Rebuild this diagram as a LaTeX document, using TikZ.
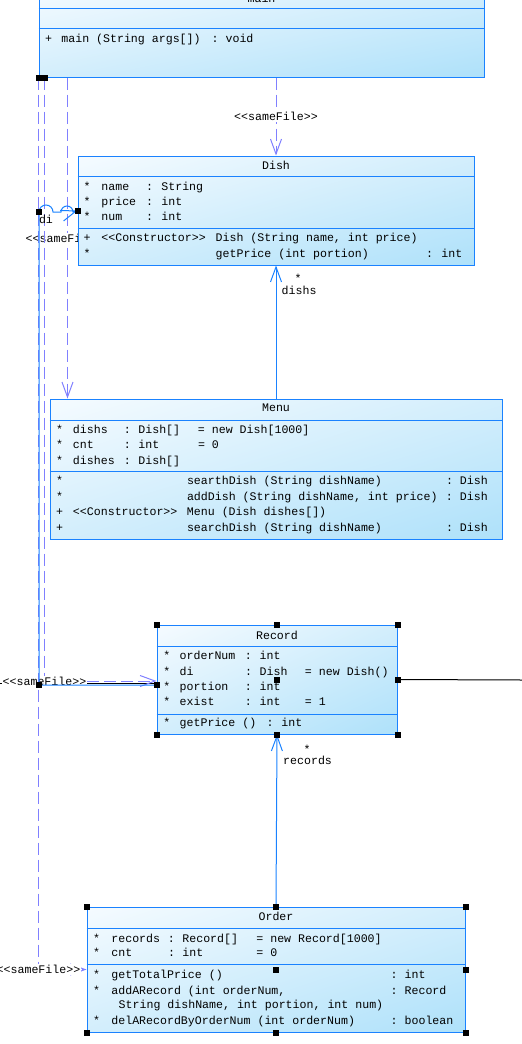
\documentclass[tikz,border=0pt]{standalone}
\usepackage{fontspec}
\setmonofont{Liberation Mono}
\usetikzlibrary{arrows.meta,calc,shadings}
\definecolor{umBlue}{HTML}{1A82FF}
\definecolor{umDep}{HTML}{8080FF}
\definecolor{umPale}{HTML}{F5FBFF}
\definecolor{umMid}{HTML}{D3EEFC}
\definecolor{umSky}{HTML}{AEE1FA}
\newcommand{\UMType}{\ttfamily\fontsize{11.6}{13}\selectfont}
\newcommand{\umcol}[2]{\makebox[#1pt][l]{#2}}
\pgfdeclarelayer{links}
\pgfsetlayers{links,main}
\tikzset{um/base/.style={x=1pt,y=-1pt,line cap=butt,line join=miter,
  every node/.style={font=\UMType,inner sep=0pt,text=black}},
  um/class/.style={rectangle,draw=umBlue,line width=1pt,shade,
    upper left=umPale,upper right=umMid,lower left=umMid,lower right=umSky},
  um/rule/.style={draw=umBlue,line width=1pt},
  um/txt/.style={yshift=-2pt},
  um/row/.style={um/txt,anchor=mid west},
  um/title/.style={um/txt,anchor=mid},
  um/dep/.style={draw=umDep,line width=1pt,dash pattern=on 12pt off 5pt,
    -{Straight Barb[length=15pt,width=11pt]}},
  um/assoc/.style={draw=umBlue,line width=1pt,-{Straight Barb[length=15pt,width=11pt]}},
  um/tag/.style={fill=white,inner sep=1pt},
  um/plain/.style={draw=black,line width=1pt}}

\begin{document}
\begin{tikzpicture}[um/base]
  \useasboundingbox (0,0) rectangle (522,1044);
  % class boxes, screenshot pixels
  \node[um/class,minimum width=445pt,minimum height=90pt] (main) at (261.5,32) {};
  \node[um/class,minimum width=396pt,minimum height=109pt] (dish) at (276,210.5) {};
  \node[um/class,minimum width=452pt,minimum height=140pt] (menu) at (276,469) {};
  \node[um/class,minimum width=240pt,minimum height=109pt] (record) at (277,679.5) {};
  \node[um/class,minimum width=378pt,minimum height=125pt] (order) at (276,969.5) {};
  \foreach \b/\y in {main/8,main/28,dish/176,dish/228,menu/420,menu/471,
      record/646,record/714,order/928,order/964}
    \draw[um/rule] (\b.west |- 0,\y) -- (\b.east |- 0,\y);

  % main
  \node[um/title] (mainName) at (main.north |- 0,-2) {main};
  \node[um/row] (mainOp) at (44.8,38) {\umcol{16.4}{+}\umcol{150.3}{main (String args[])}: void};

  % Dish
  \node[um/title] (dishName) at (dish.north |- 0,165) {Dish};
  \foreach \n/\t [count=\i] in {name/String,price/int,num/int}
    \node[um/row] (dishA\i) at (83.5,{171.7+15*\i}) {\umcol{17.7}{*}\umcol{44.8}{\n}\umcol{15.2}{:}\t};
  \node[um/row] (dishO1) at (83.5,237.3) {\umcol{17.7}{+}\umcol{114.3}{<<Constructor>>}Dish (String name, int price)};
  \node[um/row] (dishO2) at (83.5,253.3) {\umcol{17.7}{*}\umcol{114.3}{}\umcol{210.5}{getPrice (int portion)}\umcol{15.2}{:}int};

  % Menu
  \node[um/title] (menuName) at (menu.north |- 0,407.7) {Menu};
  \foreach \y/\n/\t/\v in {429/dishs/{Dish[]}/{= new Dish[1000]},444.5/cnt/int/{= 0},460/dishes/{Dish[]}/{}}
    \node[um/row] (menuA-\n) at (56,\y) {\umcol{16.8}{*}\umcol{51}{\n}\umcol{14.4}{:}\umcol{59.6}{\t}\v};
  \foreach \y/\s/\k/\n/\t [count=\i] in {
      480.7/*/{}/{searthDish (String dishName)}/{: Dish},
      496.7/*/{}/{addDish (String dishName, int price)}/{: Dish},
      511.7/+/{<<Constructor>>}/{Menu (Dish dishes[])}/{},
      527.7/+/{}/{searchDish (String dishName)}/{: Dish}}
    \node[um/row] (menuO\i) at (56,\y) {\umcol{16.8}{\s}\umcol{114}{\k}\umcol{259}{\n}\t};

  % Record
  \node[um/title] (recordName) at (record.north |- 0,635) {Record};
  \foreach \y/\n/\t/\v in {655.7/orderNum/int/{},671/di/Dish/{= new Dish()},
      686.7/portion/int/{},701/exist/int/{= 1}}
    \node[um/row] (recordA-\n) at (163.2,\y) {\umcol{16.3}{*}\umcol{65.3}{\n}\umcol{14.7}{:}\umcol{45.3}{\t}\v};
  \node[um/row] (recordO1) at (163.2,722.7) {\umcol{16.3}{*}\umcol{87}{getPrice ()}\umcol{14.7}{:}int};

  % Order
  \node[um/title] (orderName) at (order.north |- 0,916.7) {Order};
  \foreach \y/\n/\t/\v in {938.3/records/{Record[]}/{= new Record[1000]},952.7/cnt/int/{= 0}}
    \node[um/row] (orderA-\n) at (92.8,\y) {\umcol{18.4}{*}\umcol{56.6}{\n}\umcol{14.4}{:}\umcol{74}{\t}\v};
  \foreach \y/\n/\t [count=\i] in {974/{getTotalPrice ()}/{: int},
      990/{addARecord (int orderNum,}/{: Record},
      1020.7/{delARecordByOrderNum (int orderNum)}/{: boolean}}
    \node[um/row] (orderO\i) at (92.8,\y) {\umcol{18.4}{*}\umcol{279.3}{\n}\t};
  \node[um/row] (orderO2b) at (118.5,1004.3) {String dishName, int portion, int num)};

  % connectors sit under the boxes
  \begin{pgfonlayer}{links}
    \coordinate (offW) at (0,683);
    \coordinate (offE) at (522,680);
    \coordinate (diBend) at (39,212);
    \draw[um/plain] ($(record.west)+(0,3.5)$) -- (offW);
    \draw[um/plain] (record.east) -- (offE);
    \draw[um/dep] (dish.north |- main.south) -- node[um/tag] (tagDish) {<<sameFile>>} (dish.north);
    \draw[um/dep] ($(main.south west)+(29,0)$) coordinate (mainM)
      -- node[um/tag] (tagMenu) {<<sameFile>>} (mainM |- menu.north);
    \draw[um/dep] ($(main.south west)+(6,0)$) coordinate (mainR)
      |- node[um/tag] (tagRecord) {<<sameFile>>} ($(record.west)+(0,1.5)$);
    \draw[um/dep] (main.south west) |- node[um/tag] (tagOrder) {<<sameFile>>} (order.west);
    \draw[um/assoc] (menu.north) -- (dish.south);
    \draw[um/assoc] (order.north) -- (record.south);
    % line jumps over the two dashed verticals
    \draw[um/assoc] ($(record.west)+(0,5.5)$) coordinate (recDi) -| (diBend)
      arc(180:360:7) -- ++(8,0) arc(180:360:6) -- (dish.west);
  \end{pgfonlayer}

  % role names and multiplicities
  \node[um/txt] (dishsMult) at (298,276) {*};
  \node[um/txt,anchor=mid west] (dishsRole) at (281.5,290) {dishs};
  \node[um/txt] (recMult) at (307,747) {*};
  \node[um/txt,anchor=mid west] (recRole) at (283,760) {records};
  \node[um/txt] (diRole) at (46,217) {di};

  % selection grips
  \foreach \a in {north west,north,north east,east,center,south west,south,south east}{
    \fill (record.\a) +(-3,-3) rectangle +(3,3);
    \fill (order.\a) +(-3,-3) rectangle +(3,3);}
  \foreach \p in {main.south west,mainR,dish.west,diBend,recDi}
    \fill (\p) +(-3,-3) rectangle +(3,3);
  \fill (recDi -| diBend) +(-3,-3) rectangle +(3,3);
\end{tikzpicture}
\end{document}
